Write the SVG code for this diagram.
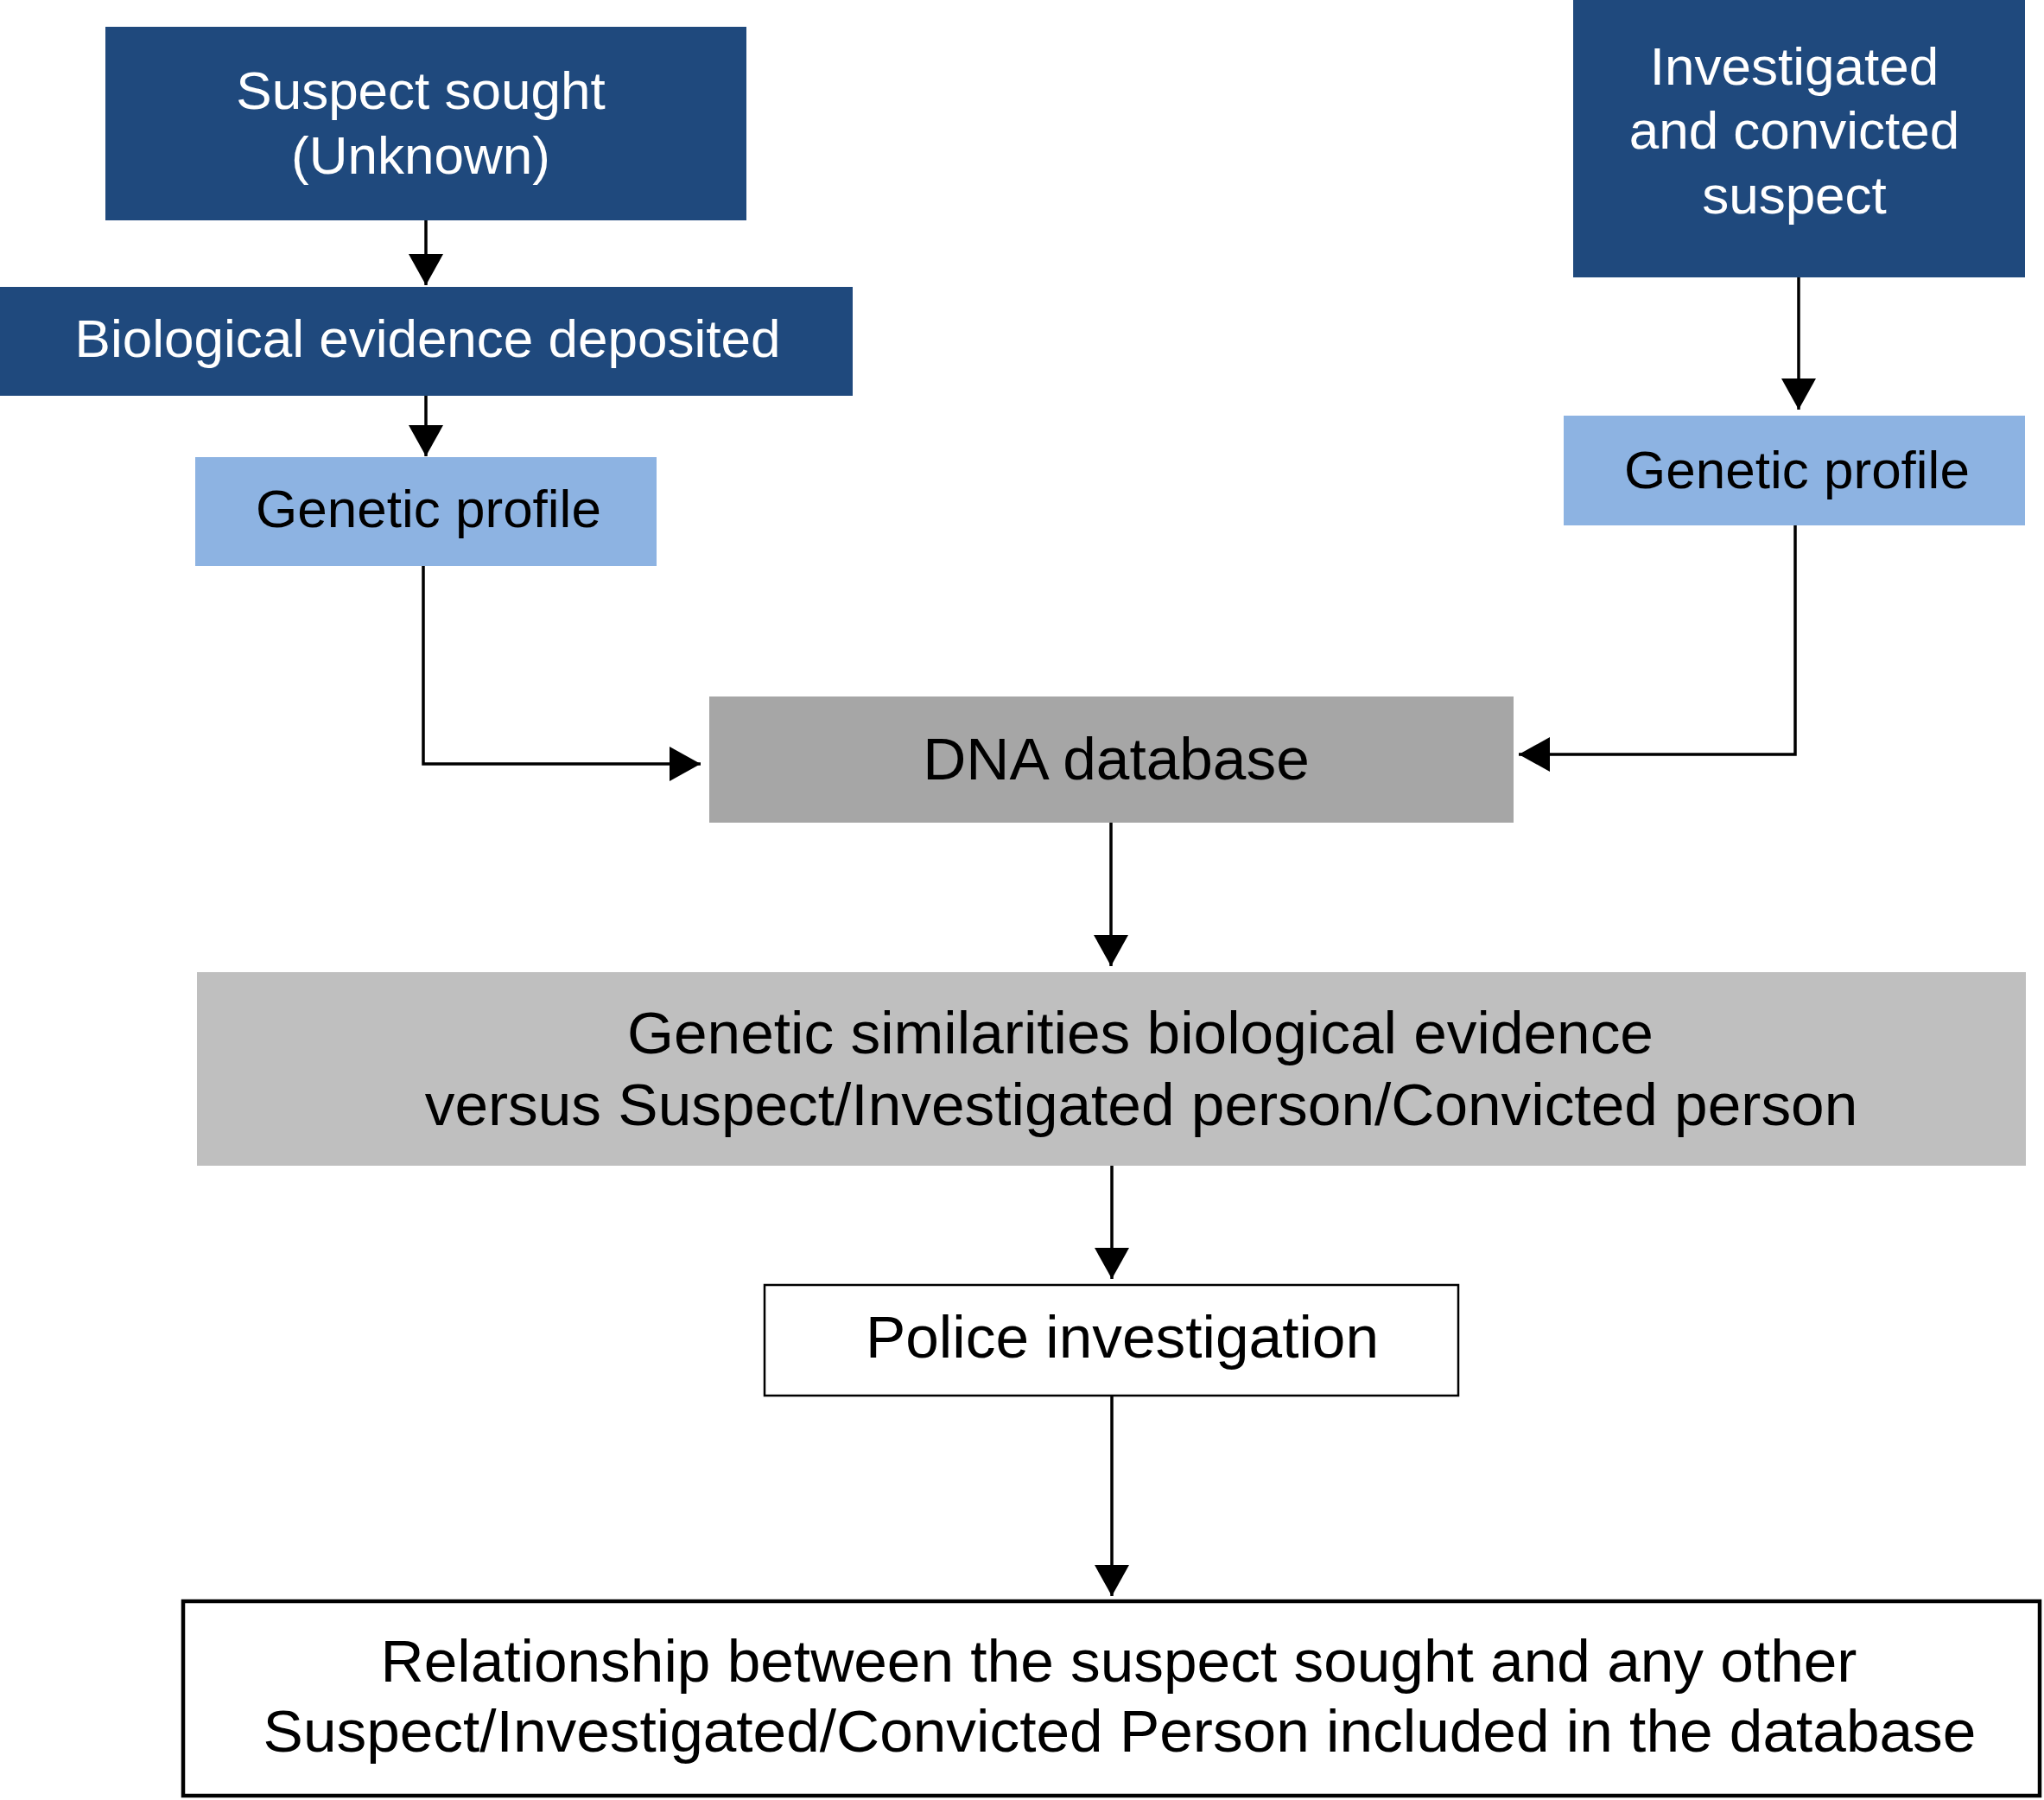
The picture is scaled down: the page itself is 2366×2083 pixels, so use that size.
<svg xmlns="http://www.w3.org/2000/svg" width="2366" height="2083" viewBox="0 0 2366 2083">
<style>
text{font-family:"Liberation Sans",Arial,sans-serif;text-anchor:middle}
.dark{fill:#1f497d}
.light{fill:#8db3e2}
.g1{fill:#a6a6a6}
.g2{fill:#bfbfbf}
.t62{font-size:62px}
.t69{font-size:69.4px}
.wt{fill:#ffffff}
.bt{fill:#000000}
.conn{fill:none;stroke:#000;stroke-width:3.5;marker-end:url(#ah)}
</style>
<defs>
<marker id="ah" viewBox="0 0 36 40" refX="36" refY="20" markerWidth="36" markerHeight="40" markerUnits="userSpaceOnUse" orient="auto">
<path d="M0,0 L36,20 L0,40 z" fill="#000"/>
</marker>
</defs>
<rect width="2366" height="2083" fill="#fff"/>
<g id="suspect-sought">
<rect class="dark" x="122" y="31" width="742" height="224"/>
<text class="t62 wt" x="487" y="126">Suspect sought</text>
<text class="t62 wt" x="487" y="201">(Unknown)</text>
</g>
<g id="bio-evidence">
<rect class="dark" x="0" y="332" width="987" height="126"/>
<text class="t62 wt" x="495" y="413">Biological evidence deposited</text>
</g>
<g id="genetic-left">
<rect class="light" x="226" y="529" width="534" height="126"/>
<text class="t62 bt" x="496" y="610">Genetic profile</text>
</g>
<g id="investigated">
<rect class="dark" x="1821" y="0" width="523" height="321"/>
<text class="t62 wt" x="2077" y="98">Investigated</text>
<text class="t62 wt" x="2077" y="172">and convicted</text>
<text class="t62 wt" x="2077" y="247">suspect</text>
</g>
<g id="genetic-right">
<rect class="light" x="1810" y="481" width="534" height="127"/>
<text class="t62 bt" x="2080" y="565">Genetic profile</text>
</g>
<g id="dna-database">
<rect class="g1" x="821" y="806" width="931" height="146"/>
<text class="t69 bt" x="1292" y="902">DNA database</text>
</g>
<g id="similarities">
<rect class="g2" x="228" y="1125" width="2117" height="224"/>
<text class="t69 bt" x="1320" y="1219">Genetic similarities biological evidence</text>
<text class="t69 bt" x="1321" y="1302">versus Suspect/Investigated person/Convicted person</text>
</g>
<g id="police">
<rect x="885" y="1487" width="803" height="128" fill="#fff" stroke="#000" stroke-width="2.5"/>
<text class="t69 bt" x="1299" y="1571">Police investigation</text>
</g>
<g id="relationship">
<rect x="212" y="1853" width="2149" height="225" fill="#fff" stroke="#000" stroke-width="4.5"/>
<text class="t69 bt" x="1295" y="1946">Relationship between the suspect sought and any other</text>
<text class="t69 bt" x="1296" y="2027">Suspect/Investigated/Convicted Person included in the database</text>
</g>
<g id="connectors">
<path class="conn" d="M493,255 L493,330"/>
<path class="conn" d="M493,458 L493,528"/>
<path class="conn" d="M490,655 L490,884 L811,884"/>
<path class="conn" d="M2082,321 L2082,474"/>
<path class="conn" d="M2078,608 L2078,873 L1758,873"/>
<path class="conn" d="M1286,952 L1286,1118"/>
<path class="conn" d="M1287,1349 L1287,1480"/>
<path class="conn" d="M1287,1615 L1287,1847"/>
</g>
</svg>
